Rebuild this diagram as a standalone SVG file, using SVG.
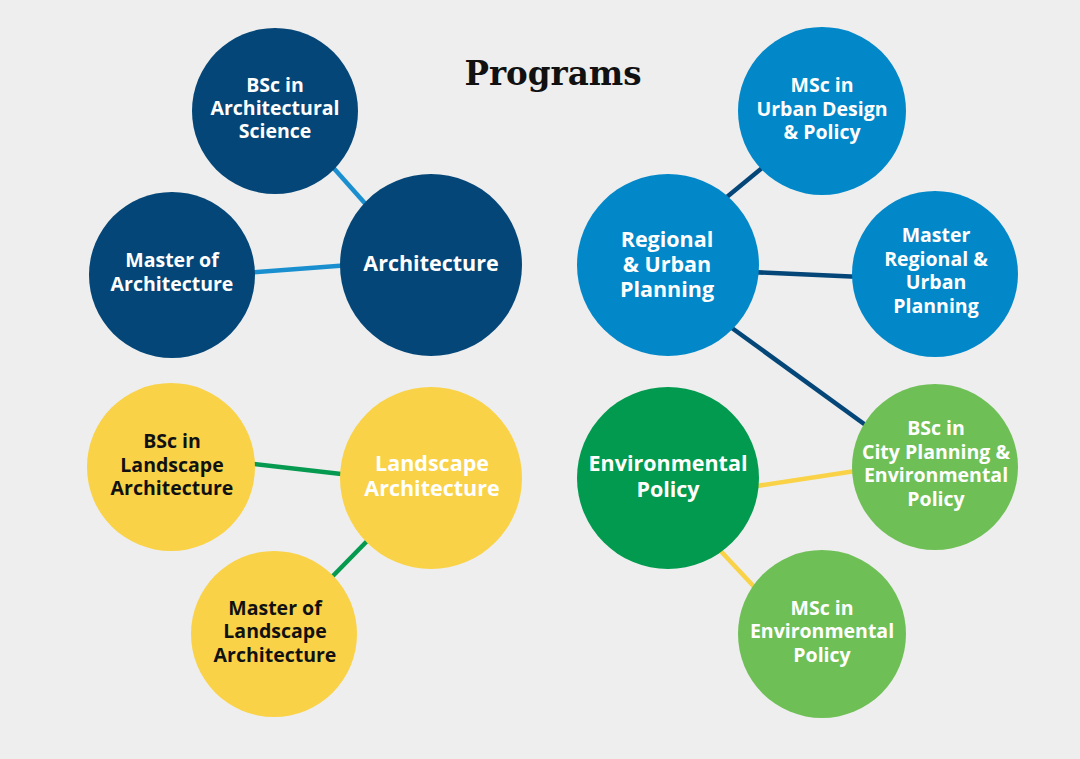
<svg xmlns="http://www.w3.org/2000/svg" width="1080" height="759" viewBox="0 0 1080 759">
<style>
.t{font-family:"Open Sans","Liberation Sans",sans-serif;font-weight:700;text-anchor:middle;fill:#fff}
.s{font-size:19.5px}
.b{font-size:21.5px}
.k{fill:#111}
.title{font-family:"DejaVu Serif","Liberation Serif",serif;font-weight:700;font-size:34px;fill:#111;text-anchor:middle}
.navy{fill:#044677}
.blue{fill:#0288c9}
.yel{fill:#f9d247}
.dg{fill:#029a4e}
.lg{fill:#6fbf57}
.c line{stroke-width:4.5;stroke-linecap:butt}
</style>
<rect width="1080" height="759" fill="#eeeeee"/>
<text class="title" x="553" y="85" textLength="177" lengthAdjust="spacingAndGlyphs">Programs</text>
<g class="c" id="connectors">
<line x1="330" y1="164" x2="370" y2="209" stroke="#1a8fd0"/>
<line x1="245" y1="273" x2="350" y2="265" stroke="#1a8fd0"/>
<line x1="768" y1="163" x2="722" y2="201" stroke="#044677"/>
<line x1="750" y1="272" x2="862" y2="277" stroke="#044677"/>
<line x1="725" y1="323" x2="871" y2="429" stroke="#044677"/>
<line x1="245" y1="463" x2="350" y2="475" stroke="#069a50"/>
<line x1="372" y1="536" x2="328" y2="581" stroke="#069a50"/>
<line x1="750" y1="487" x2="862" y2="470" stroke="#f9d247"/>
<line x1="716" y1="546" x2="759" y2="592" stroke="#f9d247"/>
</g>
<g id="bsc-arch-sci"><circle class="navy" cx="275" cy="111" r="83"/>
<text class="t s" x="275" y="92">BSc in</text><text class="t s" x="275" y="115">Architectural</text><text class="t s" x="275" y="138">Science</text></g>
<g id="master-arch"><circle class="navy" cx="172" cy="275" r="83"/>
<text class="t s" x="172" y="267">Master of</text><text class="t s" x="172" y="291">Architecture</text></g>
<g id="architecture"><circle class="navy" cx="431" cy="265" r="91"/>
<text class="t b" x="431" y="271">Architecture</text></g>
<g id="msc-urban"><circle class="blue" cx="822" cy="111" r="84"/>
<text class="t s" x="822" y="92">MSc in</text><text class="t s" x="822" y="116">Urban Design</text><text class="t s" x="822" y="139">&amp; Policy</text></g>
<g id="regional"><circle class="blue" cx="668" cy="265" r="91"/>
<text class="t b" x="667" y="247">Regional</text><text class="t b" x="667" y="272">&amp; Urban</text><text class="t b" x="667" y="297">Planning</text></g>
<g id="master-regional"><circle class="blue" cx="935" cy="274" r="83"/>
<text class="t s" x="936" y="242">Master</text><text class="t s" x="936" y="266">Regional &amp;</text><text class="t s" x="936" y="289">Urban</text><text class="t s" x="936" y="313">Planning</text></g>
<g id="bsc-landscape"><circle class="yel" cx="171" cy="467" r="84"/>
<text class="t s k" x="172" y="448">BSc in</text><text class="t s k" x="172" y="472">Landscape</text><text class="t s k" x="172" y="495">Architecture</text></g>
<g id="landscape"><circle class="yel" cx="431" cy="478" r="91"/>
<text class="t b" x="432" y="471">Landscape</text><text class="t b" x="432" y="496">Architecture</text></g>
<g id="master-landscape"><circle class="yel" cx="274" cy="634" r="83"/>
<text class="t s k" x="275" y="615">Master of</text><text class="t s k" x="275" y="638">Landscape</text><text class="t s k" x="275" y="662">Architecture</text></g>
<g id="env-policy"><circle class="dg" cx="668" cy="478" r="91"/>
<text class="t b" x="668" y="471">Environmental</text><text class="t b" x="668" y="497">Policy</text></g>
<g id="bsc-city"><circle class="lg" cx="935" cy="467" r="83"/>
<text class="t s" x="936" y="435">BSc in</text><text class="t s" x="936" y="459">City Planning &amp;</text><text class="t s" x="936" y="482">Environmental</text><text class="t s" x="936" y="506">Policy</text></g>
<g id="msc-env"><circle class="lg" cx="822" cy="634" r="84"/>
<text class="t s" x="822" y="615">MSc in</text><text class="t s" x="822" y="638">Environmental</text><text class="t s" x="822" y="662">Policy</text></g>
</svg>
